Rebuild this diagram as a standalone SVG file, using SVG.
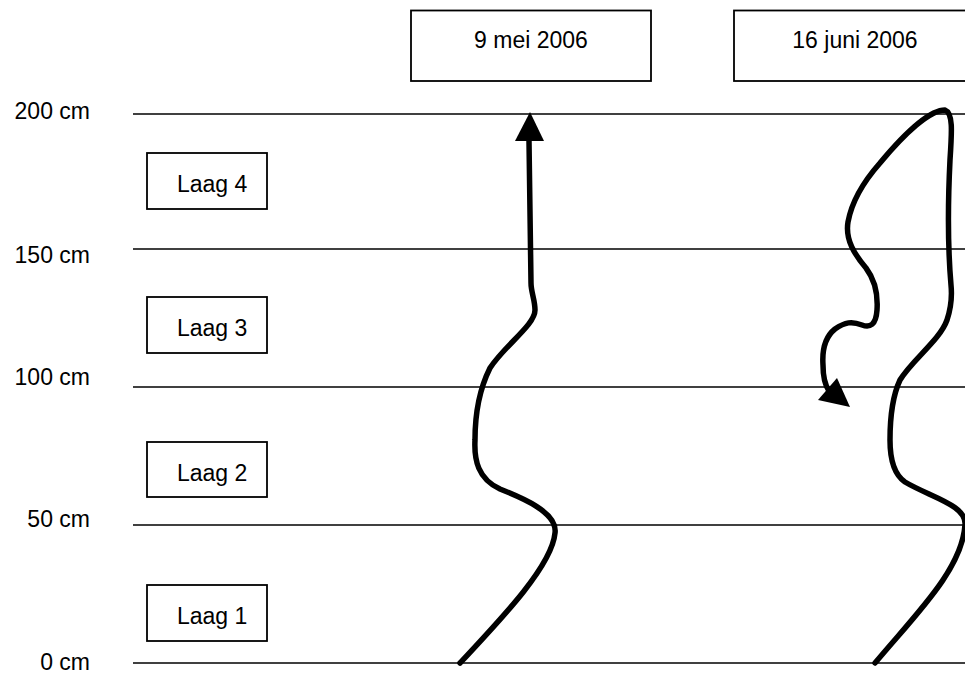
<svg xmlns="http://www.w3.org/2000/svg" width="965" height="675" viewBox="0 0 965 675">
<style>
text{font-family:"Liberation Sans",Arial,sans-serif;font-size:23px;fill:#000}
.box{fill:#fff;stroke:#000;stroke-width:1.8}
.grid{stroke:#000;stroke-width:1.5}
.curve{fill:none;stroke:#000;stroke-width:5.5;stroke-linecap:round;stroke-linejoin:round}
.head{fill:#000;stroke:none}
.lbl{text-anchor:end}
.mid{text-anchor:middle}
</style>
<rect width="965" height="675" fill="#fff"/>
<g id="gridlines">
<line class="grid" x1="133" y1="114" x2="965" y2="114"/>
<line class="grid" x1="133" y1="249" x2="965" y2="249"/>
<line class="grid" x1="133" y1="387" x2="965" y2="387"/>
<line class="grid" x1="133" y1="525" x2="965" y2="525"/>
<line class="grid" x1="133" y1="663" x2="965" y2="663"/>
</g>
<g id="axis-labels">
<text class="lbl" x="90" y="119">200 cm</text>
<text class="lbl" x="90" y="263">150 cm</text>
<text class="lbl" x="90" y="385">100 cm</text>
<text class="lbl" x="90" y="527">50 cm</text>
<text class="lbl" x="90" y="670">0 cm</text>
</g>
<g id="date1"><rect class="box" x="411" y="10.5" width="240" height="70.5"/><text class="mid" x="531" y="48">9 mei 2006</text></g>
<g id="date2"><rect class="box" x="734" y="10.5" width="240" height="70.5"/><text class="mid" x="855" y="48">16 juni 2006</text></g>
<g id="laag4"><rect class="box" x="147" y="153" width="120" height="56"/><text x="177" y="192">Laag 4</text></g>
<g id="laag3"><rect class="box" x="147" y="297" width="120" height="56"/><text x="177" y="336">Laag 3</text></g>
<g id="laag2"><rect class="box" x="147" y="442" width="120" height="55"/><text x="177" y="481">Laag 2</text></g>
<g id="laag1"><rect class="box" x="147" y="585" width="120" height="56"/><text x="177" y="624">Laag 1</text></g>
<g id="connectors">
<path class="curve" d="M460,663 C505,615 552,565 555,533 C558,512 520,497 500,489 C478,479 474,460 475,440 C475,415 478,392 490,368 C505,345 535,325 535,310 C535,300 531,292 531,283 L529,141"/>
<polygon class="head" points="530,112 515,141 544,141"/>
<path class="curve" d="M875,663 C915,615 962,570 965,525 C967,505 930,497 905,482 C892,473 890,455 890,440 C890,415 893,395 900,380 C912,360 940,340 947,320 C952,305 952,295 951,285 C948,250 948,200 950,160 C952,130 953,113 945,110 C930,110 905,133 880,163 C865,180 852,200 848,222 C845,240 855,255 866,268 C875,280 878,295 877,310 C876,325 870,328 862,325 C852,321 845,322 835,329 C825,337 822,350 823,365 C823,378 825,385 829,391"/>
<polygon class="head" points="850,407 818,400 837,378"/>
</g>
</svg>
